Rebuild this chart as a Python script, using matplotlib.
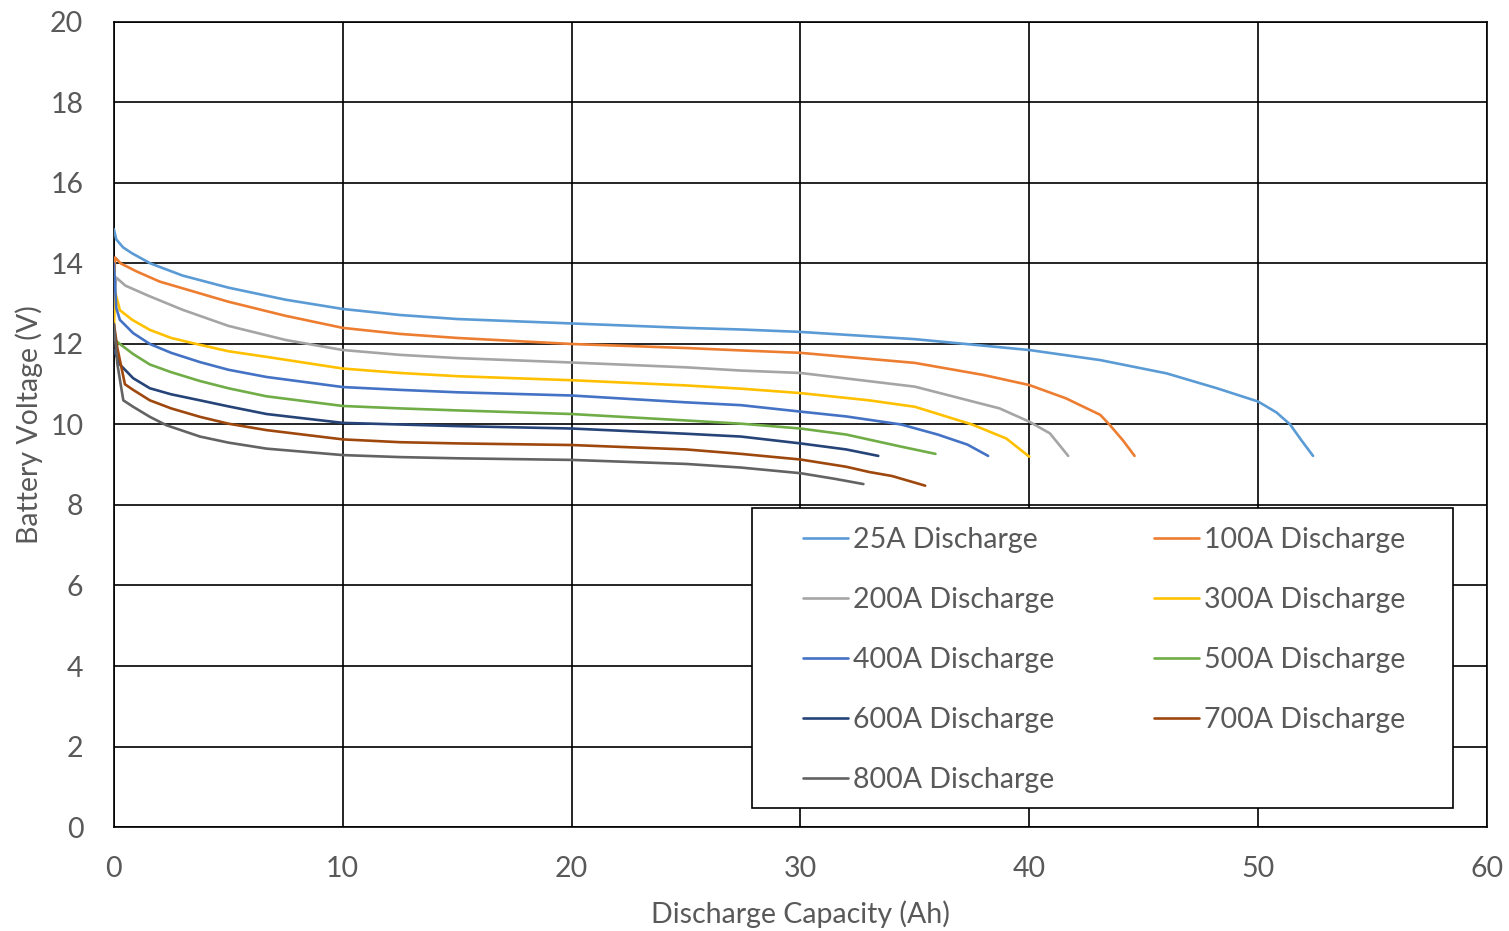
import matplotlib
matplotlib.use("Agg")
import matplotlib.pyplot as plt
from matplotlib.patches import Rectangle

plt.rcParams['font.family'] = ['Lato', 'DejaVu Sans']

labels = ["25A Discharge", "100A Discharge", "200A Discharge", "300A Discharge",
          "400A Discharge", "500A Discharge", "600A Discharge", "700A Discharge",
          "800A Discharge"]
colors = ["#5B9BD5", "#ED7D31", "#A5A5A5", "#FFC000", "#4472C4", "#70AD47",
          "#264478", "#9E480E", "#636363"]

x25 = [0, 0.1, 0.4, 0.8, 1.6, 3, 5, 7.5, 10, 12.5, 15, 20, 25, 27.4, 30, 35, 40, 43.1, 46.0, 48.2, 50, 50.8, 51.4, 51.9, 52.4]
v25 = [14.85, 14.6, 14.4, 14.25, 14.0, 13.7, 13.4, 13.1, 12.87, 12.72, 12.62, 12.51, 12.4, 12.36, 12.3, 12.12, 11.85, 11.6, 11.27, 10.9, 10.57, 10.3, 10.0, 9.6, 9.22]

x100 = [0, 0.05, 0.3, 1, 2, 3.5, 5, 7.5, 10, 12.5, 15, 20, 25, 27.4, 30, 35, 38, 40, 41.6, 43.1, 43.5, 44.1, 44.6]
v100 = [13.4, 14.15, 14.0, 13.8, 13.55, 13.3, 13.05, 12.7, 12.4, 12.25, 12.15, 12.0, 11.9, 11.84, 11.78, 11.53, 11.23, 10.98, 10.65, 10.24, 10.0, 9.6, 9.22]

x200 = [0, 0.1, 0.5, 1.5, 3, 5, 7.5, 10, 12.5, 15, 20, 25, 27.4, 30, 35, 38.7, 40, 40.9, 41.7]
v200 = [13.1, 13.65, 13.45, 13.2, 12.85, 12.45, 12.1, 11.85, 11.73, 11.65, 11.54, 11.42, 11.34, 11.28, 10.94, 10.4, 10.07, 9.78, 9.22]

x300 = [0, 0.05, 0.26, 0.8, 1.57, 2.5, 3.6, 5, 6.67, 10, 12.5, 15, 20, 25, 27.4, 30, 33, 35, 37.5, 39, 40]
v300 = [12.4, 13.3, 12.84, 12.6, 12.35, 12.15, 12.0, 11.82, 11.68, 11.39, 11.28, 11.2, 11.1, 10.97, 10.89, 10.78, 10.6, 10.44, 10.0, 9.65, 9.2]

x400 = [0, 0.1, 0.26, 0.84, 1.57, 2.5, 3.76, 5, 6.67, 10, 12.5, 15, 20, 25, 27.4, 30, 32, 34.4, 36, 37.3, 38.2]
v400 = [14.0, 12.9, 12.6, 12.27, 12.0, 11.78, 11.55, 11.36, 11.18, 10.93, 10.86, 10.8, 10.72, 10.55, 10.48, 10.32, 10.2, 10.0, 9.75, 9.5, 9.22]

x500 = [0, 0.26, 0.84, 1.57, 2.5, 3.76, 5, 6.67, 10, 12.5, 15, 20, 25, 27.4, 30, 32, 34.4, 35.9]
v500 = [12.12, 12.0, 11.75, 11.49, 11.3, 11.08, 10.9, 10.7, 10.46, 10.4, 10.35, 10.26, 10.1, 10.02, 9.9, 9.75, 9.45, 9.27]

x600 = [0, 0.26, 0.84, 1.57, 2.5, 3.76, 5, 6.67, 10, 12.5, 15, 20, 25, 27.4, 30, 32, 33.4]
v600 = [11.85, 11.49, 11.15, 10.9, 10.75, 10.6, 10.45, 10.26, 10.04, 10.0, 9.96, 9.9, 9.77, 9.7, 9.53, 9.38, 9.22]

x700 = [0, 0.15, 0.48, 0.84, 1.57, 2.5, 3.76, 5, 6.67, 10, 12.5, 15, 20, 25, 27.4, 30, 32, 33, 34, 35.45]
v700 = [12.5, 11.9, 11.0, 10.86, 10.6, 10.4, 10.19, 10.02, 9.86, 9.63, 9.56, 9.53, 9.49, 9.38, 9.27, 9.13, 8.95, 8.82, 8.72, 8.48]

x800 = [0, 0.15, 0.41, 0.84, 1.57, 2.3, 3.76, 5, 6.67, 10, 12.5, 15, 20, 25, 27.4, 30, 31.5, 32.75]
v800 = [12.5, 11.5, 10.6, 10.44, 10.19, 9.98, 9.7, 9.55, 9.4, 9.24, 9.19, 9.16, 9.12, 9.02, 8.93, 8.79, 8.65, 8.52]

series = [(x25, v25), (x100, v100), (x200, v200), (x300, v300), (x400, v400),
          (x500, v500), (x600, v600), (x700, v700), (x800, v800)]

xticks = [0, 10, 20, 30, 40, 50, 60]
yticks = [0, 2, 4, 6, 8, 10, 12, 14, 16, 18, 20]

FS = 20.5
TXT = "#595959"

fig = plt.figure(figsize=(15.09, 9.31), dpi=100)
ax = fig.add_axes([0.0755, 0.1117, 0.9099, 0.8647])

handles = {}
for (xs, vs), lab, col in zip(series, labels, colors):
    ln, = ax.plot(xs, vs, color=col, lw=1.9, label=lab, zorder=3,
                  solid_joinstyle="round", solid_capstyle="round")
    handles[lab] = ln

ax.set_xlim(0, 60)
ax.set_ylim(0, 20)
ax.set_xticks(xticks)
ax.set_yticks(yticks)
ax.grid(True, color="black", lw=1.2, zorder=1)
ax.set_axisbelow(True)
for s in ax.spines.values():
    s.set_color("black")
    s.set_linewidth(1.2)
ax.tick_params(length=0, labelsize=FS, labelcolor=TXT)
ax.tick_params(axis='x', pad=21)
ax.tick_params(axis='y', pad=22)

ax.set_xlabel("Discharge Capacity (Ah)", fontsize=FS, color=TXT, labelpad=13)
ax.set_ylabel("Battery Voltage (V)", fontsize=FS, color=TXT, labelpad=5)

# legend box
box = Rectangle((752 / 1509, (931 - 808) / 931), 701 / 1509, 300 / 931,
                transform=fig.transFigure, facecolor="white", edgecolor="black",
                lw=1.2, zorder=4)
ax.add_patch(box)
box.set_clip_on(False)

order = [0, 2, 4, 6, 8, 1, 3, 5, 7]
leg = ax.legend([handles[labels[i]] for i in order], [labels[i] for i in order],
                ncol=2, loc="upper left",
                bbox_to_anchor=(803 / 1509, (931 - 527) / 931),
                bbox_transform=fig.transFigure,
                fontsize=FS, labelcolor=TXT, frameon=False,
                labelspacing=1.19, handlelength=1.58, handletextpad=0.18,
                borderpad=0, borderaxespad=0, columnspacing=3.5)
leg.set_zorder(5)

fig.savefig("out.png", dpi=100)
